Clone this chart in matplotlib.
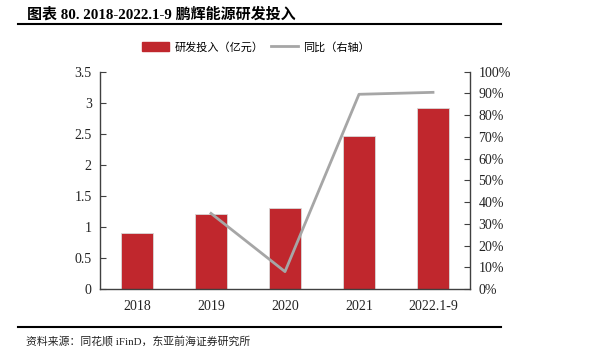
import matplotlib
matplotlib.use("Agg")
import matplotlib.pyplot as plt
from matplotlib.lines import Line2D
import numpy as np

categories = ["2018", "2019", "2020", "2021", "2022.1-9"]
rd_invest = [0.90, 1.20, 1.30, 2.47, 2.92]
yoy_pct = [None, 34.8, 8.0, 89.6, 90.5]
left_ticks = [0, 0.5, 1, 1.5, 2, 2.5, 3, 3.5]
left_labels = ["0", "0.5", "1", "1.5", "2", "2.5", "3", "3.5"]
right_ticks = list(range(0, 101, 10))
right_labels = [f"{t}%" for t in right_ticks]

title = "图表 80. 2018-2022.1-9 鹏辉能源研发投入"
legend_bar = "研发投入（亿元）"
legend_line = "同比（右轴）"
source = "资料来源：同花顺 iFinD，东亚前海证券研究所"

FAM = ["Liberation Serif", "Noto Sans CJK SC", "DejaVu Sans"]
plt.rcParams["font.family"] = FAM

fig = plt.figure(figsize=(5.92, 3.57), dpi=100)
ax = fig.add_axes([100/592, 1-289/357, 370/592, (289-71.7)/357])
x = np.arange(len(categories))
ax.bar(x, rd_invest, width=0.43, color="#C0272D", edgecolor="#D9D9D9", linewidth=0.6, zorder=2)
ax.set_xlim(-0.5, len(categories)-0.5)
ax.set_ylim(0, 3.5)
ax.set_yticks(left_ticks)
ax.set_yticklabels(left_labels)
ax.set_xticks(x)
ax.set_xticklabels(categories)
ax.tick_params(axis="y", direction="in", length=4, width=0.8, color="#404040", labelsize=10, pad=6, labelcolor="#222222")
ax.tick_params(axis="x", length=0, labelsize=10, pad=8, labelcolor="#222222")
for s in ["top", "right"]:
    ax.spines[s].set_visible(False)
for s in ["left", "bottom"]:
    ax.spines[s].set_color("#404040")
    ax.spines[s].set_linewidth(1.0)

ax2 = ax.twinx()
xl = [i for i, v in enumerate(yoy_pct) if v is not None]
yl = [v for v in yoy_pct if v is not None]
ax2.plot(xl, yl, color="#A6A6A6", linewidth=2.0, zorder=3)
ax2.set_ylim(0, 100)
ax2.set_yticks(right_ticks)
ax2.set_yticklabels(right_labels)
ax2.tick_params(axis="y", direction="in", length=4, width=0.8, color="#404040", labelsize=10, pad=6, labelcolor="#222222")
for s in ["top", "left", "bottom"]:
    ax2.spines[s].set_visible(False)
ax2.spines["right"].set_color("#404040")
ax2.spines["right"].set_linewidth(1.0)

# title and rules
fig.text(27/592, 1-14/357, title, fontsize=10.8, fontweight="bold", va="center", ha="left", family=FAM)
fig.add_artist(Line2D([18/592, 501/592], [1-24/357, 1-24/357], color="black", linewidth=1.5))
fig.add_artist(Line2D([18/592, 501/592], [1-327/357, 1-327/357], color="black", linewidth=1.5))
fig.text(26/592, 1-341/357, source, fontsize=7.8, va="center", ha="left", family=FAM, color="#222222")

# legend
handles = [plt.Rectangle((0, 0), 1, 1, color="#C0272D"),
           Line2D([0], [0], color="#A6A6A6", linewidth=2)]
fig.legend(handles, [legend_bar, legend_line], loc="center", bbox_to_anchor=(256/592, 1-47/357),
           ncol=2, frameon=False, fontsize=8, handlelength=2.4, handleheight=0.9,
           columnspacing=0.7, handletextpad=0.5)

fig.savefig("out.png", dpi=100)
